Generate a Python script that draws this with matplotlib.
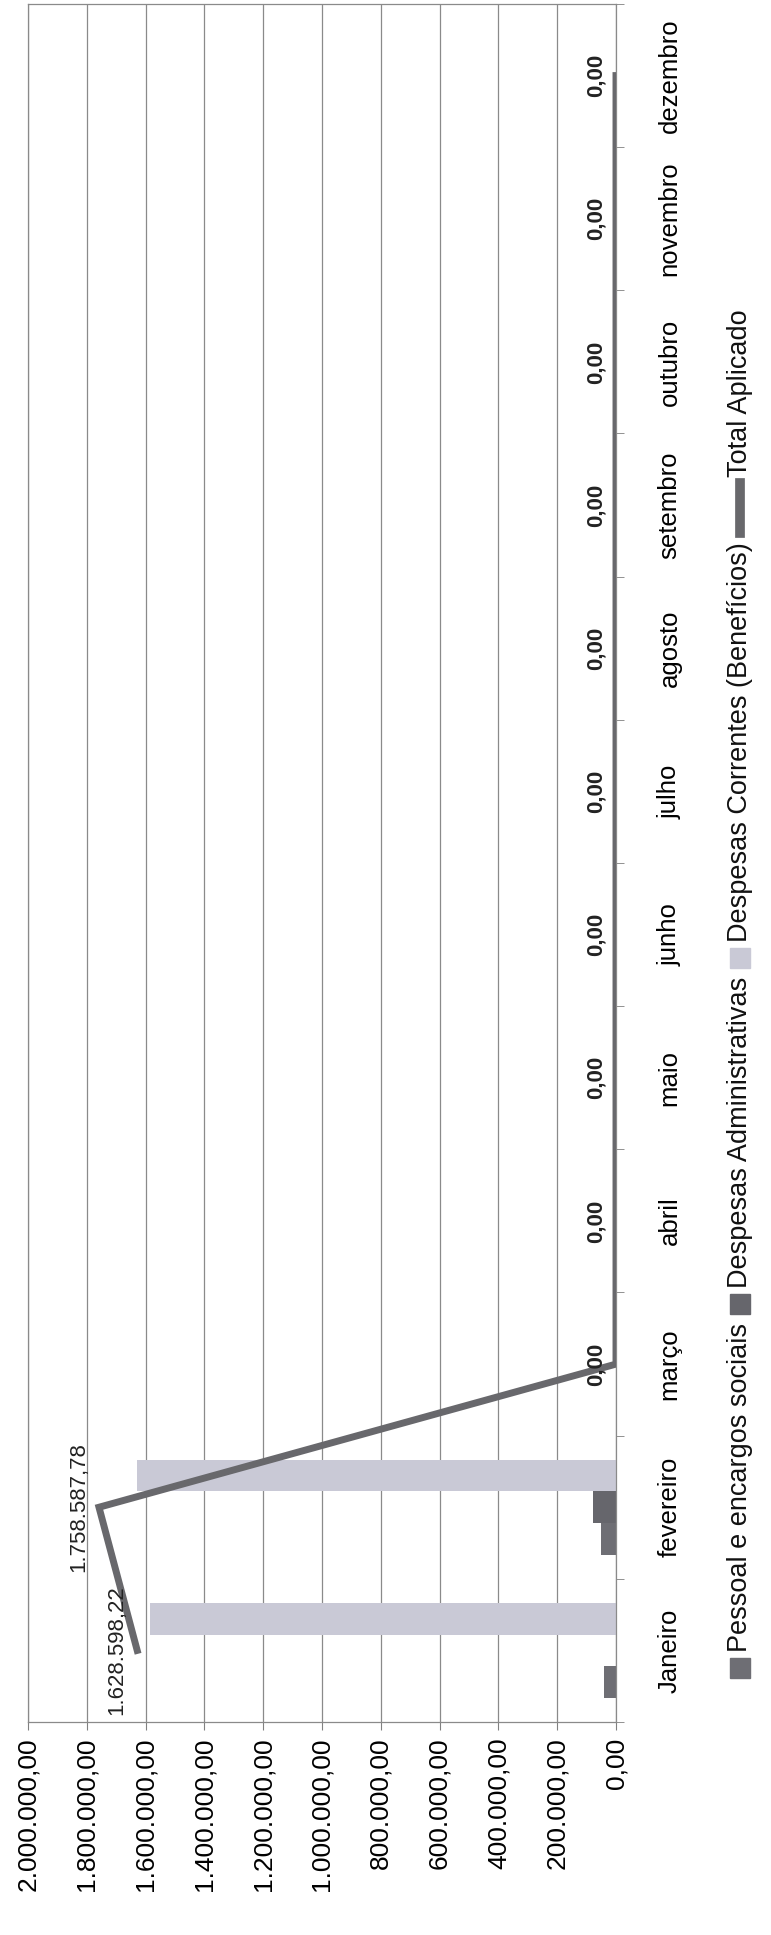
import matplotlib
matplotlib.use('Agg')
import matplotlib.pyplot as plt
from matplotlib.patches import Rectangle
from matplotlib.lines import Line2D
import numpy as np

plt.rcParams['font.family'] = ['Liberation Sans Narrow', 'Liberation Sans', 'DejaVu Sans']

meses = ['Janeiro', 'fevereiro', 'março', 'abril', 'maio', 'junho',
         'julho', 'agosto', 'setembro', 'outubro', 'novembro', 'dezembro']
pessoal = [42000, 52000, 0, 0, 0, 0, 0, 0, 0, 0, 0, 0]
administrativas = [0, 78000, 0, 0, 0, 0, 0, 0, 0, 0, 0, 0]
correntes = [1586598.22, 1628587.78, 0, 0, 0, 0, 0, 0, 0, 0, 0, 0]
total = [1628598.22, 1758587.78, 0, 0, 0, 0, 0, 0, 0, 0, 0, 0]
valor_ticks = [0, 200000, 400000, 600000, 800000, 1000000,
               1200000, 1400000, 1600000, 1800000, 2000000]
legenda = ['Pessoal e encargos sociais', 'Despesas Administrativas',
           'Despesas Correntes (Benefícios)', 'Total Aplicado']

cor_pessoal = '#6e6e74'
cor_admin = '#66666c'
cor_correntes = '#c9c9d6'
cor_total = '#68686c'


def br(v):
    s = f'{v:,.2f}'
    return s.replace(',', '#').replace('.', ',').replace('#', '.')


W, H = 771, 1935
fig = plt.figure(figsize=(W / 100, H / 100), dpi=100)
ax = fig.add_axes([28 / W, (H - 1722) / H, (616 - 28) / W, (1722 - 4) / H])

y = np.arange(len(meses))
bw = 0.222
ax.barh(y - bw, pessoal, height=bw, color=cor_pessoal, zorder=2)
ax.barh(y, administrativas, height=bw, color=cor_admin, zorder=2)
ax.barh(y + bw, correntes, height=bw, color=cor_correntes, zorder=2)
ax.plot(total, y, color=cor_total, lw=5, solid_joinstyle='miter', zorder=3)

for i, v in enumerate(total):
    ax.annotate(br(v), (v, i), xytext=(-7, 0), textcoords='offset points',
                rotation=90, ha='right', va='center', fontsize=16,
                fontweight='bold' if v == 0 else 'normal', color='#222222', zorder=4)

ax.set_xlim(2000000, 0)
ax.set_ylim(-0.5, len(meses) - 0.5)

ax.set_xticks(valor_ticks)
ax.set_xticklabels([br(v) for v in valor_ticks], rotation=90,
                   fontsize=19, family=['Liberation Sans', 'DejaVu Sans'])
ax.tick_params(axis='x', direction='out', length=6, color='#808080', pad=5)

ax.yaxis.tick_right()
ax.set_yticks(y)
ax.set_yticklabels(meses, rotation=90, va='center', fontsize=18.5)
ax.tick_params(axis='y', which='major', length=0, pad=30)
ax.set_yticks(np.arange(-0.5, len(meses), 1), minor=True)
ax.tick_params(axis='y', which='minor', direction='out', length=6, color='#808080')

ax.grid(axis='x', color='#8a8a8a', lw=0.9, zorder=0)
for s in ax.spines.values():
    s.set_color('#8a8a8a')
    s.set_linewidth(0.9)

# legend drawn by hand, rotated like the rest of the chart
fig.canvas.draw()
r = fig.canvas.get_renderer()
lx = 740
ypos = 1678
itens = [('patch', cor_pessoal), ('patch', cor_admin),
         ('patch', cor_correntes), ('line', cor_total)]
for (tipo, cor), rot in zip(itens, legenda):
    if tipo == 'patch':
        fig.patches.append(Rectangle(((lx - 10) / W, (H - ypos) / H), 20 / W, 20 / H,
                                     transform=fig.transFigure, color=cor))
        ypos -= 26
    else:
        fig.lines.append(Line2D([lx / W, lx / W], [(H - ypos) / H, (H - ypos + 50) / H],
                                transform=fig.transFigure, color=cor, lw=7))
        ypos -= 56
    t = fig.text(lx / W, (H - ypos) / H, rot, rotation=90, ha='center', va='bottom',
                 fontsize=19.5, color='#111111')
    bb = t.get_window_extent(r)
    ypos -= bb.height + 9

fig.savefig('out.png', dpi=100)
